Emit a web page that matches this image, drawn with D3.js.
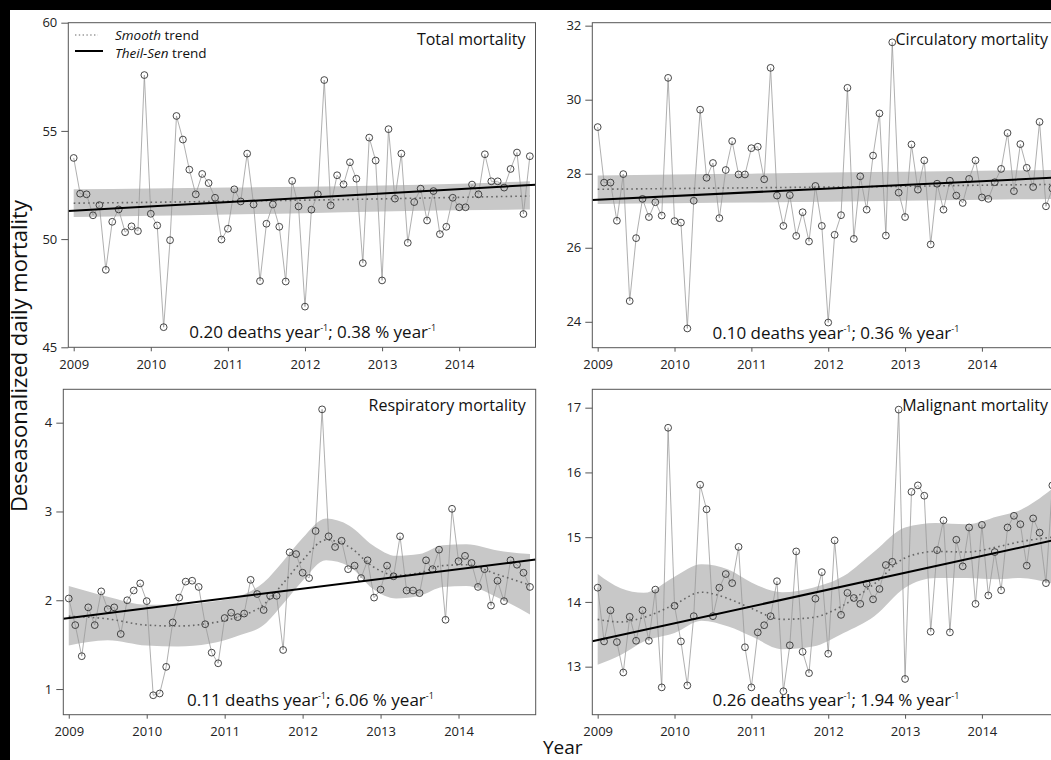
<!DOCTYPE html>
<html>
<head>
<meta charset="utf-8">
<script src="https://cdn.jsdelivr.net/npm/d3@7"></script>
<style>
  body { margin: 0; background: #000; }
  svg text { font-family: "Open Sans", sans-serif; }
</style>
</head>
<body>
<svg id="chart" width="1051" height="760"></svg>
<script>
// monthly series, Jan 2009 .. Dec 2014
var startYear = 2009;
var yearTicks = [2009, 2010, 2011, 2012, 2013, 2014];

var panelNames = ["Total mortality", "Circulatory mortality", "Respiratory mortality", "Malignant mortality"];
var slopeDeaths = ["0.20", "0.10", "0.11", "0.26"];
var slopePercent = ["0.38", "0.36", "6.06", "1.94"];

var totalValues = [
  53.75, 52.10, 52.07, 51.10, 51.57, 48.58, 50.80, 51.37, 50.32, 50.59, 50.37, 57.58,
  51.17, 50.63, 45.93, 49.95, 55.69, 54.60, 53.21, 52.07, 53.01, 52.59, 51.91, 49.98,
  50.48, 52.30, 51.74, 53.95, 51.60, 48.06, 50.71, 51.60, 50.57, 48.04, 52.69, 51.51,
  46.88, 51.36, 52.07, 57.35, 51.56, 52.95, 52.53, 53.55, 52.79, 48.89, 54.69, 53.63,
  48.09, 55.08, 51.87, 53.95, 49.83, 51.71, 52.33, 50.86, 52.22, 50.23, 50.57, 51.91,
  51.47, 51.47, 52.52, 52.07, 53.92, 52.67, 52.67, 52.38, 53.24, 54.00, 51.16, 53.83];

var circValues = [
  29.26, 27.76, 27.76, 26.73, 27.99, 24.56, 26.26, 27.32, 26.83, 27.23, 26.87, 30.59,
  26.72, 26.68, 23.82, 27.27, 29.73, 27.89, 28.29, 26.80, 28.10, 28.88, 27.98, 27.98,
  28.69, 28.73, 27.85, 30.86, 27.41, 26.59, 27.42, 26.32, 26.96, 26.17, 27.67, 26.59,
  23.98, 26.35, 26.88, 30.32, 26.24, 27.93, 27.03, 28.49, 29.63, 26.33, 31.55, 27.49,
  26.83, 28.79, 27.57, 28.36, 26.09, 27.73, 27.03, 27.81, 27.41, 27.21, 27.86, 28.36,
  27.36, 27.32, 27.77, 28.13, 29.10, 27.53, 28.80, 28.16, 27.64, 29.40, 27.12, 27.60];

var respValues = [
  2.02, 1.72, 1.37, 1.92, 1.72, 2.10, 1.90, 1.92, 1.62, 2.00, 2.11, 2.19,
  1.99, 0.93, 0.95, 1.25, 1.75, 2.03, 2.21, 2.22, 2.15, 1.73, 1.41, 1.29,
  1.80, 1.86, 1.81, 1.85, 2.23, 2.07, 1.89, 2.05, 2.05, 1.44, 2.54, 2.52,
  2.31, 2.25, 2.78, 4.15, 2.72, 2.60, 2.67, 2.35, 2.39, 2.25, 2.45, 2.03,
  2.12, 2.39, 2.27, 2.72, 2.11, 2.11, 2.08, 2.45, 2.35, 2.57, 1.78, 3.03,
  2.44, 2.50, 2.42, 2.15, 2.35, 1.94, 2.22, 1.99, 2.45, 2.40, 2.31, 2.15];

var maligValues = [
  14.22, 13.39, 13.87, 13.38, 12.91, 13.77, 13.40, 13.87, 13.40, 14.19, 12.68, 16.69,
  13.94, 13.39, 12.71, 13.78, 15.81, 15.43, 13.78, 14.22, 14.43, 14.29, 14.85, 13.30,
  12.68, 13.53, 13.64, 13.78, 14.32, 12.62, 13.33, 14.78, 13.23, 12.90, 14.05, 14.46,
  13.20, 14.95, 13.80, 14.14, 14.06, 13.97, 14.28, 14.04, 14.20, 14.57, 14.62, 16.97,
  12.81, 15.70, 15.80, 15.64, 13.54, 14.80, 15.26, 13.53, 14.96, 14.55, 15.15, 13.97,
  15.19, 14.10, 14.77, 14.18, 15.15, 15.33, 15.20, 14.56, 15.29, 15.07, 14.29, 15.80];

// smooth trend (GAM) and its confidence band, read at knots
var totalKnots = [2009, 2010, 2011, 2012, 2013, 2014, 2014.917];
var totalSmooth = [51.66, 51.70, 51.75, 51.80, 51.86, 51.93, 51.99];
var totalLow    = [51.02, 51.08, 51.14, 51.20, 51.27, 51.33, 51.37];
var totalHigh   = [52.30, 52.34, 52.38, 52.42, 52.48, 52.56, 52.67];

var circKnots = [2009, 2010, 2011, 2012, 2013, 2014, 2014.917];
var circSmooth = [27.58, 27.60, 27.62, 27.64, 27.66, 27.69, 27.71];
var circLow    = [27.18, 27.20, 27.22, 27.24, 27.27, 27.30, 27.32];
var circHigh   = [27.95, 27.98, 28.00, 28.03, 28.05, 28.08, 28.10];

var respKnots = [2009.0, 2009.5, 2010.0, 2010.4, 2010.8, 2011.2, 2011.5, 2011.75, 2012.0, 2012.3, 2012.6, 2012.9, 2013.2, 2013.5, 2013.8, 2014.1, 2014.5, 2014.917];
var respSmooth = [1.82, 1.79, 1.72, 1.71, 1.74, 1.82, 1.95, 2.19, 2.45, 2.68, 2.60, 2.38, 2.28, 2.31, 2.39, 2.40, 2.29, 2.17];
var respLow    = [1.49, 1.55, 1.49, 1.48, 1.51, 1.61, 1.72, 1.96, 2.22, 2.45, 2.38, 2.13, 2.02, 2.05, 2.15, 2.16, 2.03, 1.84];
var respHigh   = [2.16, 2.04, 1.95, 1.95, 1.98, 2.05, 2.20, 2.44, 2.70, 2.92, 2.84, 2.62, 2.50, 2.52, 2.62, 2.63, 2.56, 2.52];

var maligKnots = [2009.0, 2009.3, 2009.6, 2010.0, 2010.35, 2010.7, 2011.0, 2011.4, 2011.8, 2012.2, 2012.6, 2013.0, 2013.4, 2013.8, 2014.2, 2014.5, 2014.92];
var maligSmooth = [13.73, 13.69, 13.76, 13.96, 14.15, 14.05, 13.90, 13.73, 13.76, 13.95, 14.28, 14.68, 14.78, 14.77, 14.85, 14.93, 15.00];
var maligLow    = [13.03, 13.18, 13.39, 13.52, 13.71, 13.62, 13.47, 13.27, 13.31, 13.52, 13.78, 14.22, 14.37, 14.37, 14.35, 14.37, 14.28];
var maligHigh   = [14.43, 14.21, 14.14, 14.39, 14.58, 14.50, 14.30, 14.15, 14.22, 14.40, 14.78, 15.15, 15.22, 15.20, 15.32, 15.42, 15.75];

// Theil-Sen line: value at Jan 2009 and slope per year
var senStart = [51.31, 27.30, 1.80, 13.41];
var senSlope = [0.20, 0.10, 0.11, 0.26];

var totalTicks = [45, 50, 55, 60];
var circTicks = [24, 26, 28, 30, 32];
var respTicks = [1, 2, 3, 4];
var maligTicks = [13, 14, 15, 16, 17];

var xDomain = [2008.93, 2014.99];

var panels = [
  {values: totalValues, knots: totalKnots, smooth: totalSmooth, low: totalLow, high: totalHigh,
   ticks: totalTicks, yDomain: [45, 60], left: 68.3, right: 535.5, top: 22.7, bottom: 347.3},
  {values: circValues, knots: circKnots, smooth: circSmooth, low: circLow, high: circHigh,
   ticks: circTicks, yDomain: [23.30, 32.08], left: 592.3, right: 1058, top: 22.7, bottom: 347.7},
  {values: respValues, knots: respKnots, smooth: respSmooth, low: respLow, high: respHigh,
   ticks: respTicks, yDomain: [0.711, 4.376], left: 63.3, right: 535.7, top: 389.3, bottom: 714.7},
  {values: maligValues, knots: maligKnots, smooth: maligSmooth, low: maligLow, high: maligHigh,
   ticks: maligTicks, yDomain: [12.258, 17.284], left: 592.3, right: 1058, top: 389.3, bottom: 714.7}
];

var svg = d3.select("#chart");

svg.append("rect")
    .attr("x", 10).attr("y", 10)
    .attr("width", 1041).attr("height", 750)
    .attr("fill", "#fff");

panels.forEach(function(p, i) {
  var x = d3.scaleLinear().domain(xDomain).range([p.left, p.right]);
  var y = d3.scaleLinear().domain(p.yDomain).range([p.bottom, p.top]);
  var g = svg.append("g");

  g.append("clipPath").attr("id", "clip" + i)
    .append("rect")
      .attr("x", p.left).attr("y", p.top)
      .attr("width", p.right - p.left).attr("height", p.bottom - p.top);

  var plot = g.append("g").attr("clip-path", "url(#clip" + i + ")");

  var band = p.knots.map(function(k, j) {
    return {yr: k, mid: p.smooth[j], lo: p.low[j], hi: p.high[j]};
  });
  var pts = p.values.map(function(v, j) {
    return {yr: startYear + j / 12, v: v};
  });

  // confidence band
  plot.append("path").datum(band)
      .attr("d", d3.area()
          .x(function(d) { return x(d.yr); })
          .y0(function(d) { return y(d.lo); })
          .y1(function(d) { return y(d.hi); })
          .curve(d3.curveMonotoneX))
      .attr("fill", "#c8c8c8");

  // monthly series
  plot.append("path").datum(pts)
      .attr("d", d3.line()
          .x(function(d) { return x(d.yr); })
          .y(function(d) { return y(d.v); }))
      .attr("fill", "none")
      .attr("stroke", "#9a9a9a")
      .attr("stroke-width", 0.8);

  // smooth trend
  plot.append("path").datum(band)
      .attr("d", d3.line()
          .x(function(d) { return x(d.yr); })
          .y(function(d) { return y(d.mid); })
          .curve(d3.curveMonotoneX))
      .attr("fill", "none")
      .attr("stroke", "#666")
      .attr("stroke-width", 1.6)
      .attr("stroke-dasharray", "1.6,3.2");

  plot.selectAll("circle").data(pts).enter().append("circle")
      .attr("cx", function(d) { return x(d.yr); })
      .attr("cy", function(d) { return y(d.v); })
      .attr("r", 3.4)
      .attr("fill", "none")
      .attr("stroke", "#333")
      .attr("stroke-width", 0.9);

  // Theil-Sen trend
  plot.append("path").datum(xDomain)
      .attr("d", d3.line()
          .x(function(d) { return x(d); })
          .y(function(d) { return y(senStart[i] + senSlope[i] * (d - startYear)); }))
      .attr("stroke", "#000")
      .attr("stroke-width", 2);

  // frame
  g.append("rect")
      .attr("x", p.left).attr("y", p.top)
      .attr("width", p.right - p.left).attr("height", p.bottom - p.top)
      .attr("fill", "none")
      .attr("stroke", "#555")
      .attr("stroke-width", 1);

  var yAxis = g.append("g")
      .attr("transform", "translate(" + p.left + ",0)")
      .call(d3.axisLeft(y).tickValues(p.ticks).tickSize(7).tickPadding(4).tickFormat(d3.format("d")));
  var xAxis = g.append("g")
      .attr("transform", "translate(0," + p.bottom + ")")
      .call(d3.axisBottom(x).tickValues(yearTicks).tickSize(4).tickPadding(8).tickFormat(d3.format("d")));
  [yAxis, xAxis].forEach(function(a) {
    a.select(".domain").remove();
    a.selectAll("line").attr("stroke", "#555");
    a.selectAll("text").attr("font-family", "'Open Sans', sans-serif")
        .attr("font-size", 13).attr("fill", "#222");
  });

  g.append("text")
      .attr("x", p.right - 10).attr("y", p.top + 22)
      .attr("text-anchor", "end")
      .attr("font-size", 16)
      .attr("fill", "#111")
      .text(panelNames[i]);

  var note = g.append("text")
      .attr("x", x(2012.1)).attr("y", p.bottom - 9)
      .attr("text-anchor", "middle")
      .attr("font-size", 17)
      .attr("fill", "#111");
  note.append("tspan").text(slopeDeaths[i] + " deaths year");
  note.append("tspan").attr("dy", -7).attr("font-size", 9).text("-1");
  note.append("tspan").attr("dy", 7).text("; " + slopePercent[i] + " % year");
  note.append("tspan").attr("dy", -7).attr("font-size", 9).text("-1");
});

// legend in first panel
var leg = svg.append("g");
leg.append("line").attr("x1", 75).attr("x2", 98).attr("y1", 35).attr("y2", 35)
    .attr("stroke", "#666").attr("stroke-width", 1.2).attr("stroke-dasharray", "1.4,2.4");
leg.append("line").attr("x1", 75).attr("x2", 103).attr("y1", 51).attr("y2", 51)
    .attr("stroke", "#000").attr("stroke-width", 2);
var l1 = leg.append("text").attr("x", 115).attr("y", 39.6).attr("font-size", 13.5).attr("fill", "#111");
l1.append("tspan").attr("font-style", "italic").text("Smooth");
l1.append("tspan").text(" trend");
var l2 = leg.append("text").attr("x", 115).attr("y", 57.8).attr("font-size", 13.5).attr("fill", "#111");
l2.append("tspan").attr("font-style", "italic").text("Theil-Sen");
l2.append("tspan").text(" trend");

svg.append("text")
    .attr("transform", "translate(27,356) rotate(-90)")
    .attr("text-anchor", "middle")
    .attr("font-size", 22)
    .attr("fill", "#111")
    .text("Deseasonalized daily mortality");

svg.append("text")
    .attr("x", 562.7).attr("y", 754)
    .attr("text-anchor", "middle")
    .attr("font-size", 19)
    .attr("fill", "#111")
    .text("Year");
</script>
</body>
</html>
